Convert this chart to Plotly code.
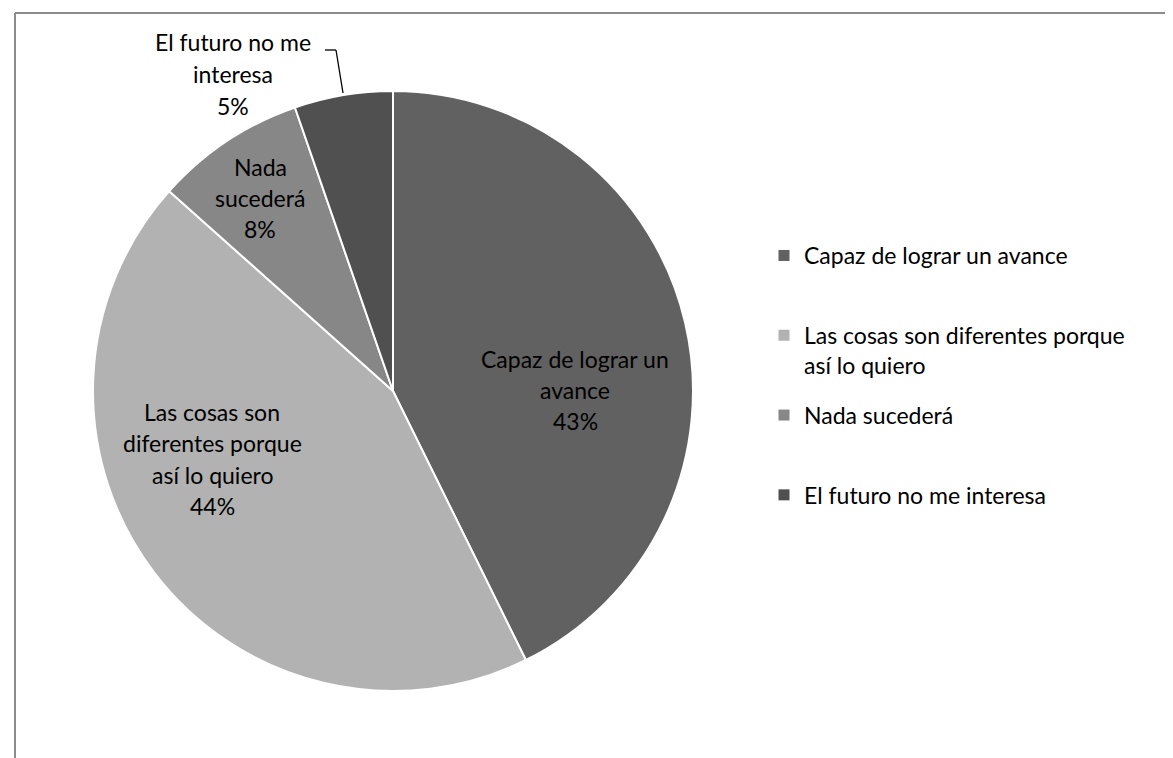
import plotly.graph_objects as go

# ── Data ────────────────────────────────────────────────────
categories = [
    "Capaz de lograr un avance",
    "Las cosas son diferentes porque así lo quiero",
    "Nada sucederá",
    "El futuro no me interesa",
]
legend_lines = [
    ["Capaz de lograr un avance"],
    ["Las cosas son diferentes porque", "así lo quiero"],
    ["Nada sucederá"],
    ["El futuro no me interesa"],
]
slice_lines = [
    ["Capaz de lograr un", "avance"],
    ["Las cosas son", "diferentes porque", "así lo quiero"],
    ["Nada", "sucederá"],
    ["El futuro no me", "interesa"],
]
values = [42.7, 43.9, 8.1, 5.3]
colors = ["#616161", "#b2b2b2", "#878787", "#505050"]

FONT = "Lato, 'Open Sans', sans-serif"
FS = 23
LINE_H = 31.5                      # Excel-like line spacing for data labels
W, H = 1173, 758
CX, CY, R = 385, 383, 300          # pie centre / radius in px

# label block centres (px) – Excel "best fit" placement
label_pos = [(567, 382), (204, 451), (252, 190), (225, 66)]

total = sum(values)
pcts = [round(v / total * 100) for v in values]

fig = go.Figure(go.Pie(
    labels=categories,
    values=values,
    sort=False,
    direction="clockwise",
    rotation=0,
    marker=dict(colors=colors, line=dict(color="white", width=2)),
    textinfo="none",
    showlegend=False,
    hovertemplate="%{label}: %{percent}<extra></extra>",
    domain=dict(x=[(CX - R) / W, (CX + R) / W],
                y=[1 - (CY + R) / H, 1 - (CY - R) / H]),
))

# legend entries (one group each, so the gap between them can be set),
# every entry padded to two lines to get even slots as in Excel
for i, (lines, c) in enumerate(zip(legend_lines, colors)):
    fig.add_trace(go.Scatter(
        x=[None], y=[None], mode="markers",
        marker=dict(symbol="square", size=11, color=c),
        name="<br>".join(lines + [" "] * (2 - len(lines))),
        legendgroup=f"g{i}", showlegend=True, hoverinfo="skip",
    ))

# data labels, one annotation per line so the spacing can be controlled
annotations = []
for lines, p, (lx, ly) in zip(slice_lines, pcts, label_pos):
    rows = lines + [f"{p}%"]
    n = len(rows)
    for i, row in enumerate(rows):
        y_px = ly + (i - (n - 1) / 2) * LINE_H
        annotations.append(dict(
            x=lx / W, y=1 - y_px / H, xref="paper", yref="paper",
            xanchor="center", yanchor="middle", showarrow=False,
            text=row,
            font=dict(family=FONT, size=FS, color="#000000"),
        ))


def px_line(x0, y0, x1, y1, color="#8c8c8c", width=2):
    return dict(type="line", xref="paper", yref="paper",
                x0=x0 / W, x1=x1 / W, y0=1 - y0 / H, y1=1 - y1 / H,
                line=dict(color=color, width=width))


shapes = [
    px_line(7, 5, W, 5),             # chart-area frame, top
    px_line(7, 5, 7, H),             # chart-area frame, left
    # leader line for the small outside label
    px_line(317, 42, 328, 42, "#000000", 1.3),
    px_line(328, 42, 335, 85, "#000000", 1.3),
]

fig.update_layout(
    width=W, height=H,
    margin=dict(l=0, r=0, t=0, b=0),
    paper_bgcolor="white",
    plot_bgcolor="white",
    xaxis=dict(visible=False),
    yaxis=dict(visible=False),
    font=dict(family=FONT, size=FS, color="#000000"),
    showlegend=True,
    legend=dict(
        x=756 / W, y=1 - 226 / H, xanchor="left", yanchor="top",
        valign="top", traceorder="grouped", tracegroupgap=17,
        font=dict(family=FONT, size=FS, color="#000000"),
        itemwidth=30,
    ),
    annotations=annotations,
    shapes=shapes,
)

fig.write_html("out.html")
